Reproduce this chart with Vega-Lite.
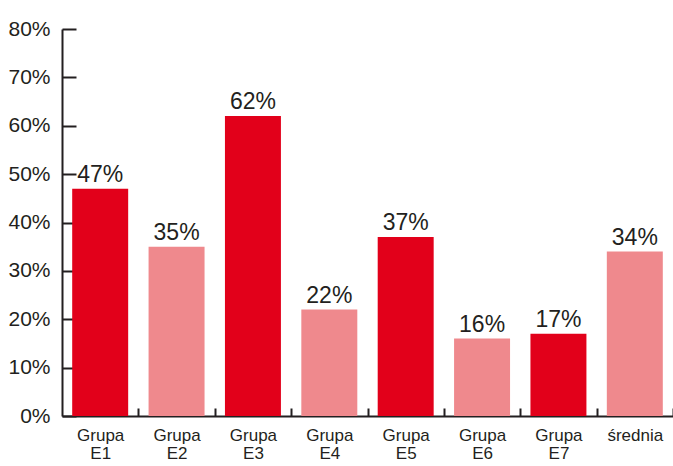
{
  "$schema": "https://vega.github.io/schema/vega-lite/v6.json",
  "width": 611,
  "height": 387,
  "autosize": {"type": "none"},
  "padding": {"left": 62, "top": 29, "right": 0, "bottom": 50},
  "background": "white",
  "config": {
    "view": {"stroke": null},
    "font": "Liberation Sans"
  },
  "data": {
    "values": [
      {"grupa": "Grupa E1", "value": 0.47},
      {"grupa": "Grupa E2", "value": 0.35},
      {"grupa": "Grupa E3", "value": 0.62},
      {"grupa": "Grupa E4", "value": 0.22},
      {"grupa": "Grupa E5", "value": 0.37},
      {"grupa": "Grupa E6", "value": 0.16},
      {"grupa": "Grupa E7", "value": 0.17},
      {"grupa": "średnia", "value": 0.34}
    ]
  },
  "encoding": {
    "x": {
      "field": "grupa",
      "type": "nominal",
      "sort": null,
      "scale": {"paddingInner": 0.267, "paddingOuter": 0.1335},
      "axis": {
        "orient": "bottom",
        "title": null,
        "labelAngle": 0,
        "ticks": true,
        "tickOffset": 38.19,
        "tickSize": -8,
        "tickWidth": 2,
        "tickColor": "#231f20",
        "labelOffset": -38.19,
        "labelPadding": 19,
        "labelExpr": "split(datum.label, ' ')",
        "labelFontSize": 17,
        "labelLineHeight": 18.5,
        "labelColor": "#231f20",
        "labelFont": "Liberation Sans",
        "domainColor": "#231f20",
        "domainWidth": 2
      }
    },
    "y": {
      "field": "value",
      "type": "quantitative",
      "scale": {"domain": [0, 0.8], "nice": false, "zero": true},
      "axis": {
        "title": null,
        "values": [0, 0.1, 0.2, 0.3, 0.4, 0.5, 0.6, 0.7, 0.8],
        "format": ".0%",
        "grid": false,
        "domainColor": "#231f20",
        "domainWidth": 2,
        "tickColor": "#231f20",
        "tickWidth": 2,
        "tickSize": -14,
        "labelPadding": 26,
        "labelFontSize": 21,
        "labelColor": "#231f20",
        "labelFont": "Liberation Sans"
      }
    }
  },
  "layer": [
    {
      "mark": {"type": "bar"},
      "encoding": {
        "color": {
          "field": "grupa",
          "type": "nominal",
          "sort": null,
          "scale": {"range": ["#e2001a", "#ef898d", "#e2001a", "#ef898d", "#e2001a", "#ef898d", "#e2001a", "#ef898d"]},
          "legend": null
        }
      }
    },
    {
      "mark": {"type": "text", "baseline": "alphabetic", "dy": -7, "fontSize": 23, "color": "#231f20", "font": "Liberation Sans"},
      "encoding": {
        "text": {"field": "value", "type": "quantitative", "format": ".0%"}
      }
    }
  ]
}
